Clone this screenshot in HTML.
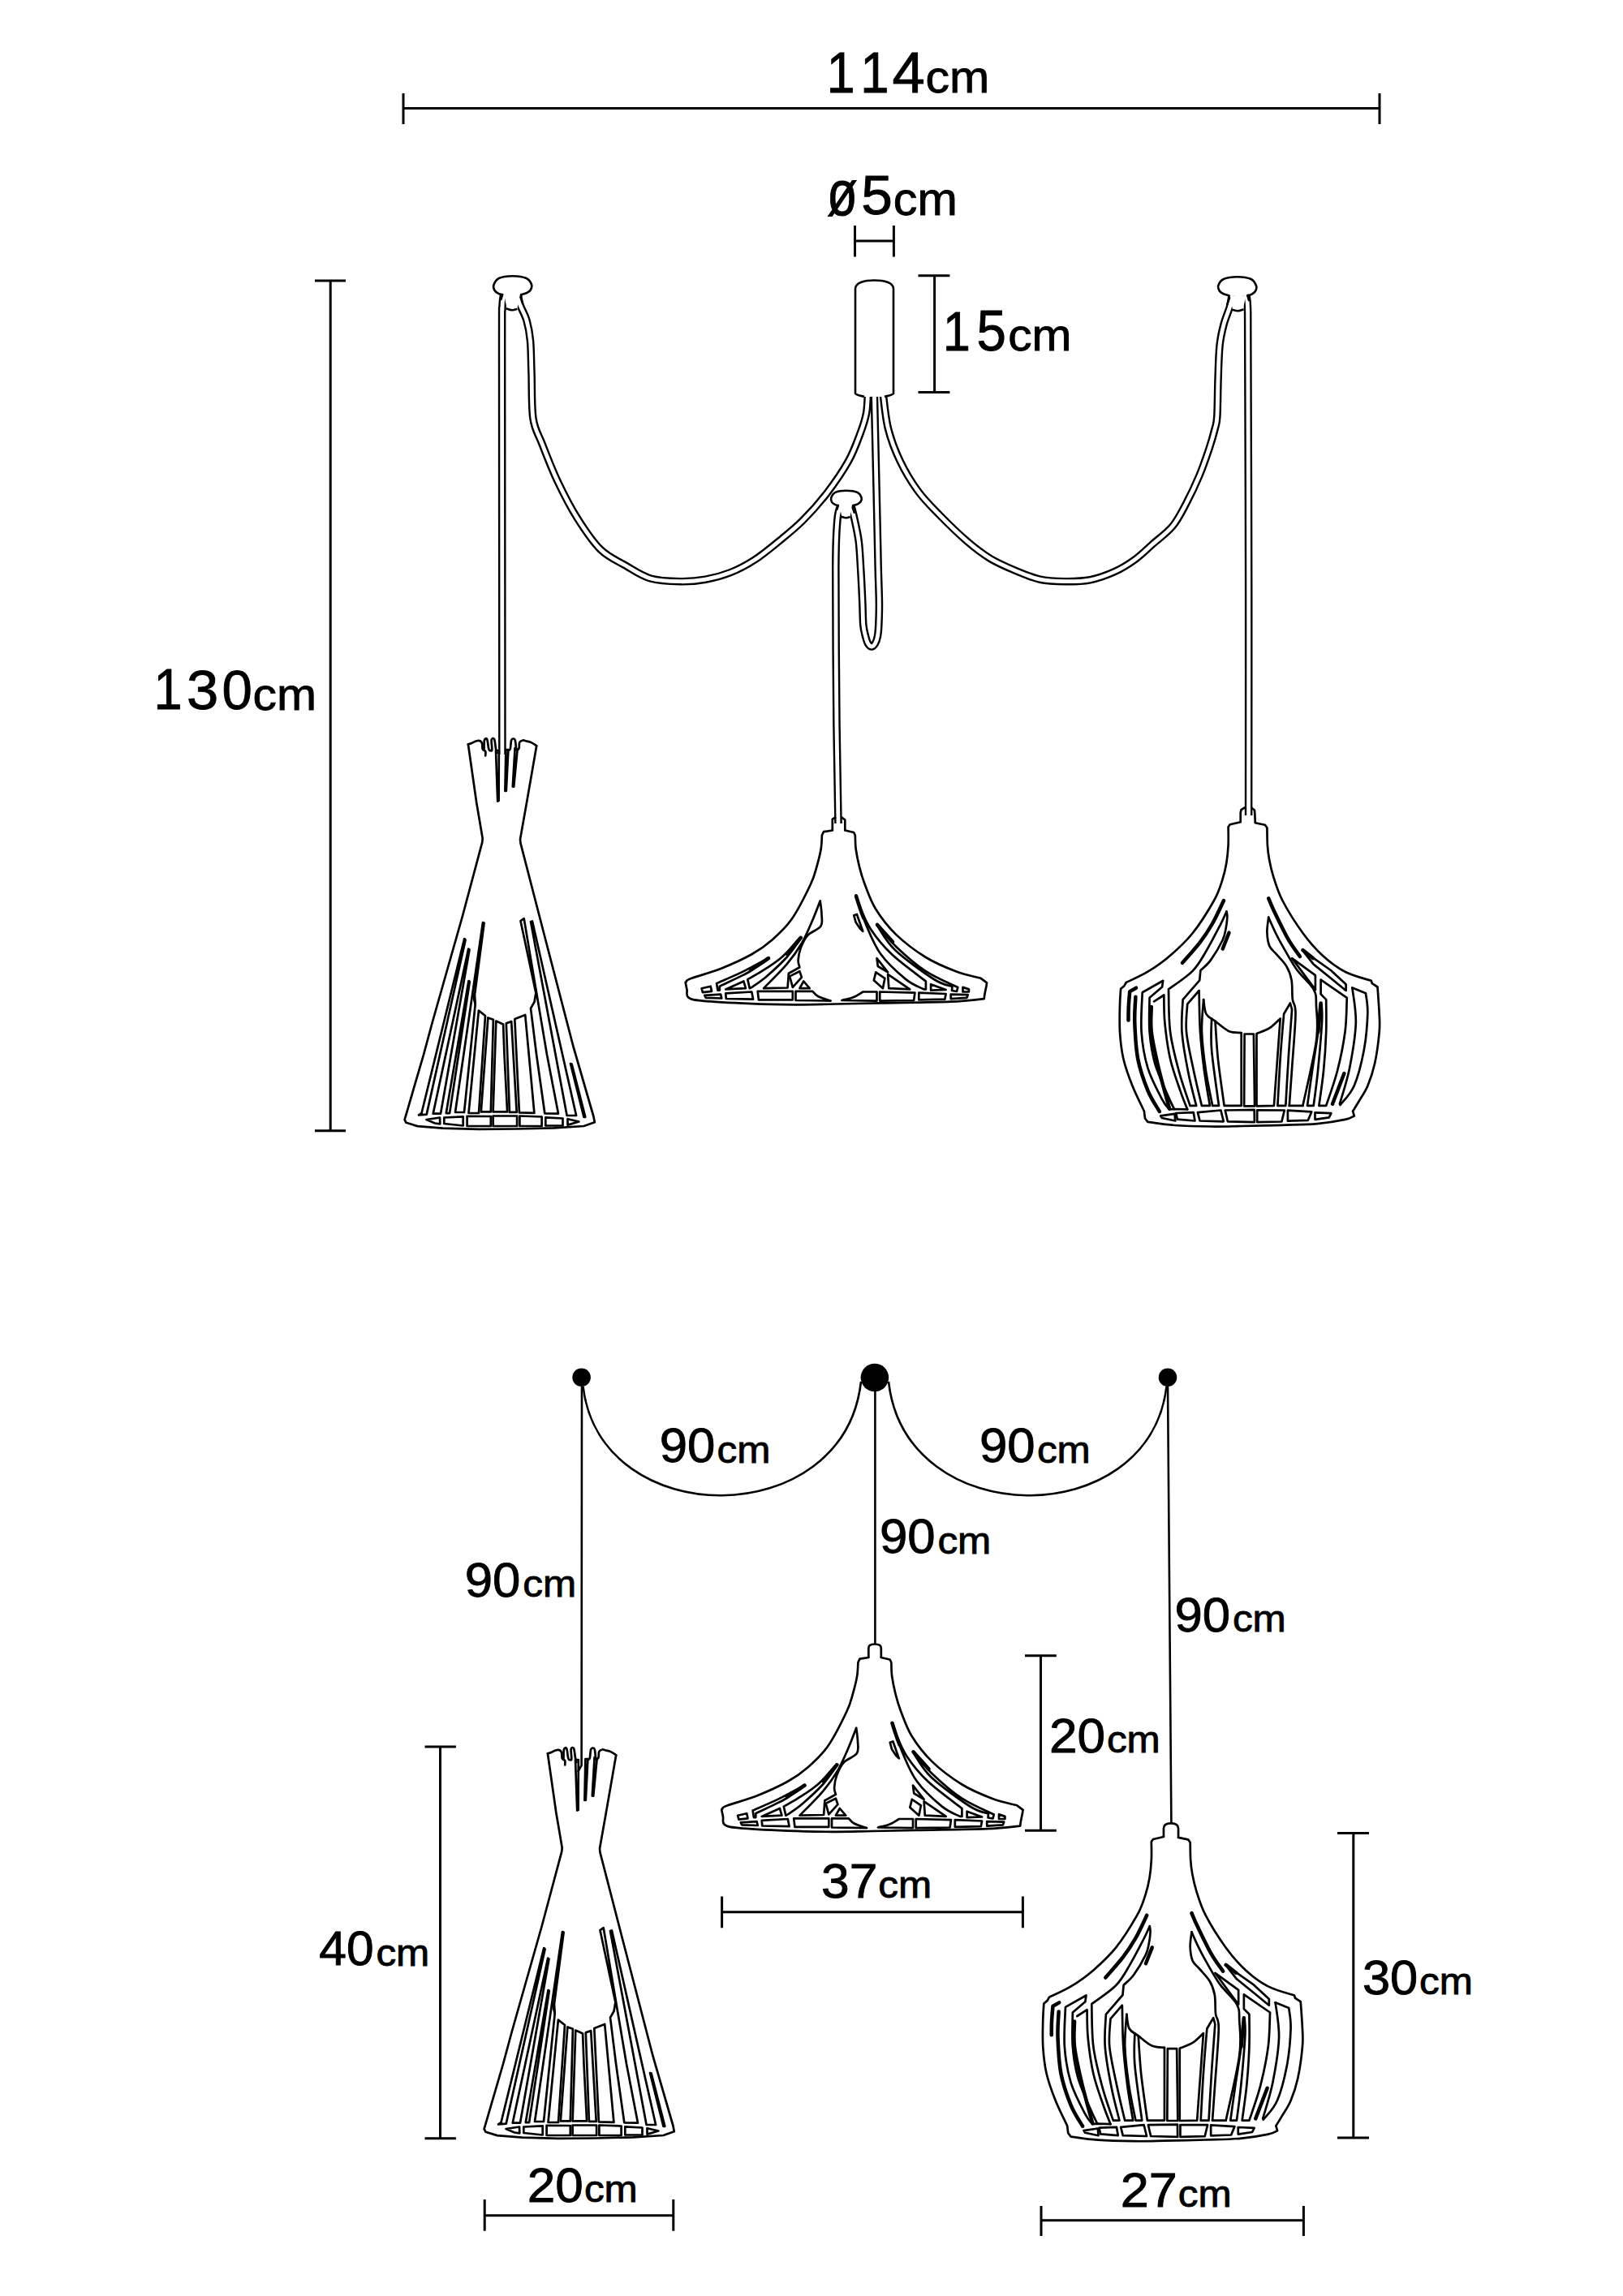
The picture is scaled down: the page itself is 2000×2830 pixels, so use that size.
<!DOCTYPE html>
<html><head><meta charset="utf-8"><style>
html,body{margin:0;padding:0;background:#fff;}
svg{display:block;}
text{font-family:"Liberation Sans",sans-serif;fill:#000;}
</style></head><body>
<svg width="2000" height="2830" viewBox="0 0 2000 2830" xmlns="http://www.w3.org/2000/svg">
<text transform="matrix(62.558 0 0 70.725 1018.71 113.60)" font-size="1" stroke="#000" stroke-width="0.0135">1</text>
<text transform="matrix(63.488 0 0 70.725 1060.34 113.60)" font-size="1" stroke="#000" stroke-width="0.0134">1</text>
<text transform="matrix(72.400 0 0 70.725 1099.49 113.60)" font-size="1" stroke="#000" stroke-width="0.0126">4</text>
<text transform="matrix(59.098 0 0 56.364 1140.44 113.74)" font-size="1" stroke="#000" stroke-width="0.0156">cm</text>
<text transform="matrix(61.607 0 0 78.407 1018.96 265.33)" font-size="1" stroke="#000" stroke-width="0.0129">ø</text>
<text transform="matrix(69.474 0 0 69.286 1061.22 264.01)" font-size="1" stroke="#000" stroke-width="0.0130">5</text>
<text transform="matrix(59.262 0 0 57.818 1100.83 264.62)" font-size="1" stroke="#000" stroke-width="0.0154">cm</text>
<text transform="matrix(60.698 0 0 69.420 1162.05 432.30)" font-size="1" stroke="#000" stroke-width="0.0139">1</text>
<text transform="matrix(65.474 0 0 69.429 1203.38 432.31)" font-size="1" stroke="#000" stroke-width="0.0133">5</text>
<text transform="matrix(58.689 0 0 55.636 1242.16 432.34)" font-size="1" stroke="#000" stroke-width="0.0158">cm</text>
<text transform="matrix(63.023 0 0 70.725 189.47 874.40)" font-size="1" stroke="#000" stroke-width="0.0135">1</text>
<text transform="matrix(70.638 0 0 69.296 230.07 874.11)" font-size="1" stroke="#000" stroke-width="0.0129">3</text>
<text transform="matrix(67.158 0 0 69.296 273.51 874.11)" font-size="1" stroke="#000" stroke-width="0.0132">0</text>
<text transform="matrix(58.852 0 0 55.818 311.55 874.74)" font-size="1" stroke="#000" stroke-width="0.0157">cm</text>
<text transform="matrix(61.748 0 0 58.873 812.72 1802.41)" font-size="1" stroke="#000" stroke-width="0.0149">90</text>
<text transform="matrix(49.426 0 0 46.000 883.48 1802.84)" font-size="1" stroke="#000" stroke-width="0.0189">cm</text>
<text transform="matrix(61.748 0 0 58.873 1207.02 1802.41)" font-size="1" stroke="#000" stroke-width="0.0149">90</text>
<text transform="matrix(49.426 0 0 46.000 1277.88 1802.84)" font-size="1" stroke="#000" stroke-width="0.0189">cm</text>
<text transform="matrix(61.748 0 0 58.873 1084.02 1914.21)" font-size="1" stroke="#000" stroke-width="0.0149">90</text>
<text transform="matrix(49.426 0 0 46.000 1155.38 1914.64)" font-size="1" stroke="#000" stroke-width="0.0189">cm</text>
<text transform="matrix(61.748 0 0 58.873 572.72 1967.81)" font-size="1" stroke="#000" stroke-width="0.0149">90</text>
<text transform="matrix(49.426 0 0 46.000 644.18 1968.24)" font-size="1" stroke="#000" stroke-width="0.0189">cm</text>
<text transform="matrix(61.748 0 0 58.873 1447.42 2010.61)" font-size="1" stroke="#000" stroke-width="0.0149">90</text>
<text transform="matrix(49.426 0 0 46.000 1518.88 2011.04)" font-size="1" stroke="#000" stroke-width="0.0189">cm</text>
<text transform="matrix(62.049 0 0 58.873 1292.90 2159.51)" font-size="1" stroke="#000" stroke-width="0.0149">20</text>
<text transform="matrix(49.426 0 0 46.000 1363.88 2159.94)" font-size="1" stroke="#000" stroke-width="0.0189">cm</text>
<text transform="matrix(62.353 0 0 58.873 1012.01 2338.81)" font-size="1" stroke="#000" stroke-width="0.0149">37</text>
<text transform="matrix(49.426 0 0 46.000 1082.18 2339.24)" font-size="1" stroke="#000" stroke-width="0.0189">cm</text>
<text transform="matrix(60.571 0 0 58.873 393.29 2422.21)" font-size="1" stroke="#000" stroke-width="0.0151">40</text>
<text transform="matrix(49.426 0 0 46.000 463.38 2422.64)" font-size="1" stroke="#000" stroke-width="0.0189">cm</text>
<text transform="matrix(62.049 0 0 58.873 649.70 2713.61)" font-size="1" stroke="#000" stroke-width="0.0149">20</text>
<text transform="matrix(49.426 0 0 46.000 719.88 2714.04)" font-size="1" stroke="#000" stroke-width="0.0189">cm</text>
<text transform="matrix(62.970 0 0 59.714 1380.65 2720.20)" font-size="1" stroke="#000" stroke-width="0.0147">27</text>
<text transform="matrix(49.426 0 0 46.000 1451.78 2720.04)" font-size="1" stroke="#000" stroke-width="0.0189">cm</text>
<text transform="matrix(61.449 0 0 58.873 1678.94 2457.51)" font-size="1" stroke="#000" stroke-width="0.0150">30</text>
<text transform="matrix(49.426 0 0 46.000 1749.08 2457.94)" font-size="1" stroke="#000" stroke-width="0.0189">cm</text>
<path d="M497 133.6L1700 133.6M497 115L497 153M1700 115L1700 153M1053.5 297L1101.4 297M1053.5 278L1053.5 316.5M1101.4 278L1101.4 316.5M1151.6 339.7L1151.6 483.6M1131.5 339.7L1170.4 339.7M1131.5 483.6L1170.4 483.6M407.2 346.1L407.2 1393.7M388 346.1L426 346.1M388 1393.7L426 1393.7M542.5 2153L542.5 2635.8M523.5 2153L561.9 2153M523.5 2635.8L561.9 2635.8M597.2 2730.7L829.8 2730.7M597.2 2711L597.2 2749.8M829.8 2711L829.8 2749.8M1282.5 2040.7L1282.5 2256.2M1263 2040.7L1301.8 2040.7M1263 2256.2L1301.8 2256.2M889.6 2356.7L1260.4 2356.7M889.6 2337.5L889.6 2376.3M1260.4 2337.5L1260.4 2376.3M1667.8 2259.6L1667.8 2635M1648 2259.6L1687 2259.6M1648 2635L1687 2635M1283 2736.8L1606.4 2736.8M1283 2719L1283 2756M1606.4 2719L1606.4 2756" stroke="#000" stroke-width="3" fill="none"/>
<g id="cables">
<path d="M620.5 364.0C620.2 366.7 619.3 367.7 619.0 380.0C618.7 392.3 618.6 346.3 618.6 438.0C618.6 529.7 618.9 848.0 618.9 930.0" stroke="#000" stroke-width="9.6" fill="none" stroke-linejoin="round"/>
<path d="M620.5 364.0C620.2 366.7 619.3 367.7 619.0 380.0C618.7 392.3 618.6 346.3 618.6 438.0C618.6 529.7 618.9 848.0 618.9 930.0" stroke="#fff" stroke-width="4.8" fill="none" stroke-linejoin="round"/>
<path d="M638.5 364.0C638.9 366.0 639.2 370.8 641.0 376.0C642.8 381.2 646.9 387.7 649.0 395.0C651.1 402.3 652.5 409.2 653.5 420.0C654.5 430.8 654.4 444.0 655.0 460.0C655.6 476.0 654.8 501.5 657.0 516.0C659.2 530.5 663.0 534.2 668.0 547.0C673.0 559.8 679.8 577.8 687.0 593.0C694.2 608.2 702.2 624.0 711.0 638.0C719.8 652.0 730.0 667.5 740.0 677.3C750.0 687.1 760.5 691.0 770.8 697.0C781.1 703.0 790.3 709.7 801.6 713.0C812.9 716.3 827.3 716.5 838.6 716.7C849.9 716.9 859.1 716.1 869.4 714.2C879.7 712.4 890.1 709.6 900.2 705.6C910.3 701.6 920.1 696.4 930.0 690.0C939.9 683.6 949.8 675.3 959.6 667.3C969.5 659.2 979.2 651.6 989.1 641.7C999.0 631.9 1009.3 620.4 1018.7 608.2C1028.1 596.0 1038.4 581.0 1045.3 568.7C1052.2 556.4 1056.4 544.1 1060.1 534.2C1063.8 524.4 1065.9 518.0 1067.5 509.6C1069.1 501.2 1069.2 488.3 1069.5 484.0" stroke="#000" stroke-width="9.6" fill="none" stroke-linejoin="round"/>
<path d="M638.5 364.0C638.9 366.0 639.2 370.8 641.0 376.0C642.8 381.2 646.9 387.7 649.0 395.0C651.1 402.3 652.5 409.2 653.5 420.0C654.5 430.8 654.4 444.0 655.0 460.0C655.6 476.0 654.8 501.5 657.0 516.0C659.2 530.5 663.0 534.2 668.0 547.0C673.0 559.8 679.8 577.8 687.0 593.0C694.2 608.2 702.2 624.0 711.0 638.0C719.8 652.0 730.0 667.5 740.0 677.3C750.0 687.1 760.5 691.0 770.8 697.0C781.1 703.0 790.3 709.7 801.6 713.0C812.9 716.3 827.3 716.5 838.6 716.7C849.9 716.9 859.1 716.1 869.4 714.2C879.7 712.4 890.1 709.6 900.2 705.6C910.3 701.6 920.1 696.4 930.0 690.0C939.9 683.6 949.8 675.3 959.6 667.3C969.5 659.2 979.2 651.6 989.1 641.7C999.0 631.9 1009.3 620.4 1018.7 608.2C1028.1 596.0 1038.4 581.0 1045.3 568.7C1052.2 556.4 1056.4 544.1 1060.1 534.2C1063.8 524.4 1065.9 518.0 1067.5 509.6C1069.1 501.2 1069.2 488.3 1069.5 484.0" stroke="#fff" stroke-width="4.8" fill="none" stroke-linejoin="round"/>
<path d="M1536.0 364.0C1536.2 366.7 1537.2 368.2 1537.5 380.0C1537.8 391.8 1537.6 376.3 1537.8 434.6C1538.0 492.9 1538.6 634.9 1538.7 730.0C1538.8 825.1 1538.6 959.2 1538.6 1005.0" stroke="#000" stroke-width="9.6" fill="none" stroke-linejoin="round"/>
<path d="M1536.0 364.0C1536.2 366.7 1537.2 368.2 1537.5 380.0C1537.8 391.8 1537.6 376.3 1537.8 434.6C1538.0 492.9 1538.6 634.9 1538.7 730.0C1538.8 825.1 1538.6 959.2 1538.6 1005.0" stroke="#fff" stroke-width="4.8" fill="none" stroke-linejoin="round"/>
<path d="M1518.0 364.0C1517.6 366.3 1517.2 372.0 1515.5 378.0C1513.8 384.0 1510.1 392.0 1508.0 400.0C1505.9 408.0 1504.2 414.5 1503.0 426.0C1501.8 437.5 1501.5 454.3 1501.0 469.0C1500.5 483.7 1500.5 504.0 1499.8 514.0C1499.1 524.0 1498.6 522.5 1497.0 529.0C1495.4 535.5 1493.2 543.5 1490.0 553.0C1486.8 562.5 1482.7 574.8 1478.0 586.0C1473.3 597.2 1467.5 609.6 1462.0 620.0C1456.5 630.4 1452.0 640.0 1445.0 648.5C1438.0 657.0 1427.7 664.1 1420.0 671.0C1412.3 677.9 1406.4 684.0 1398.7 689.6C1391.0 695.2 1383.2 700.2 1374.0 704.4C1364.8 708.6 1353.5 712.8 1343.2 714.8C1332.9 716.8 1322.7 716.8 1312.4 716.7C1302.1 716.6 1291.9 716.5 1281.6 714.2C1271.3 711.9 1261.1 707.4 1250.8 703.1C1240.5 698.8 1229.8 694.2 1220.0 688.3C1210.2 682.3 1202.5 676.4 1192.0 667.4C1181.5 658.4 1167.2 644.4 1157.0 634.0C1146.8 623.6 1139.0 616.0 1131.0 605.0C1123.0 594.0 1115.1 580.8 1109.0 568.0C1102.9 555.2 1097.9 542.0 1094.4 528.0C1090.9 514.0 1089.1 491.3 1088.0 484.0" stroke="#000" stroke-width="9.6" fill="none" stroke-linejoin="round"/>
<path d="M1518.0 364.0C1517.6 366.3 1517.2 372.0 1515.5 378.0C1513.8 384.0 1510.1 392.0 1508.0 400.0C1505.9 408.0 1504.2 414.5 1503.0 426.0C1501.8 437.5 1501.5 454.3 1501.0 469.0C1500.5 483.7 1500.5 504.0 1499.8 514.0C1499.1 524.0 1498.6 522.5 1497.0 529.0C1495.4 535.5 1493.2 543.5 1490.0 553.0C1486.8 562.5 1482.7 574.8 1478.0 586.0C1473.3 597.2 1467.5 609.6 1462.0 620.0C1456.5 630.4 1452.0 640.0 1445.0 648.5C1438.0 657.0 1427.7 664.1 1420.0 671.0C1412.3 677.9 1406.4 684.0 1398.7 689.6C1391.0 695.2 1383.2 700.2 1374.0 704.4C1364.8 708.6 1353.5 712.8 1343.2 714.8C1332.9 716.8 1322.7 716.8 1312.4 716.7C1302.1 716.6 1291.9 716.5 1281.6 714.2C1271.3 711.9 1261.1 707.4 1250.8 703.1C1240.5 698.8 1229.8 694.2 1220.0 688.3C1210.2 682.3 1202.5 676.4 1192.0 667.4C1181.5 658.4 1167.2 644.4 1157.0 634.0C1146.8 623.6 1139.0 616.0 1131.0 605.0C1123.0 594.0 1115.1 580.8 1109.0 568.0C1102.9 555.2 1097.9 542.0 1094.4 528.0C1090.9 514.0 1089.1 491.3 1088.0 484.0" stroke="#fff" stroke-width="4.8" fill="none" stroke-linejoin="round"/>
<path d="M1077.3 484.0C1077.8 503.3 1079.2 564.0 1080.0 600.0C1080.8 636.0 1081.6 676.2 1082.2 700.0C1082.8 723.8 1083.3 731.3 1083.4 743.0C1083.5 754.7 1083.1 763.2 1082.8 770.0C1082.5 776.8 1082.2 780.2 1081.5 784.0C1080.8 787.8 1079.8 790.8 1078.5 793.0C1077.2 795.2 1075.5 797.0 1074.0 797.0C1072.5 797.0 1070.8 795.2 1069.5 793.0C1068.2 790.8 1067.5 787.8 1066.5 784.0C1065.5 780.2 1064.4 776.8 1063.8 770.0C1063.2 763.2 1063.3 754.7 1062.8 743.0C1062.3 731.3 1061.4 712.7 1060.6 700.0C1059.8 687.3 1059.5 677.0 1058.2 667.0C1056.9 657.0 1054.6 647.5 1053.0 640.0C1051.4 632.5 1049.2 625.0 1048.5 622.0" stroke="#000" stroke-width="9.6" fill="none" stroke-linejoin="round"/>
<path d="M1077.3 484.0C1077.8 503.3 1079.2 564.0 1080.0 600.0C1080.8 636.0 1081.6 676.2 1082.2 700.0C1082.8 723.8 1083.3 731.3 1083.4 743.0C1083.5 754.7 1083.1 763.2 1082.8 770.0C1082.5 776.8 1082.2 780.2 1081.5 784.0C1080.8 787.8 1079.8 790.8 1078.5 793.0C1077.2 795.2 1075.5 797.0 1074.0 797.0C1072.5 797.0 1070.8 795.2 1069.5 793.0C1068.2 790.8 1067.5 787.8 1066.5 784.0C1065.5 780.2 1064.4 776.8 1063.8 770.0C1063.2 763.2 1063.3 754.7 1062.8 743.0C1062.3 731.3 1061.4 712.7 1060.6 700.0C1059.8 687.3 1059.5 677.0 1058.2 667.0C1056.9 657.0 1054.6 647.5 1053.0 640.0C1051.4 632.5 1049.2 625.0 1048.5 622.0" stroke="#fff" stroke-width="4.8" fill="none" stroke-linejoin="round"/>
<path d="M1036.5 622.0C1035.8 625.0 1033.1 627.0 1032.0 640.0C1030.9 653.0 1030.0 658.9 1029.8 700.0C1029.6 741.1 1030.4 834.3 1030.9 886.8C1031.4 939.3 1032.7 993.6 1033.0 1015.0" stroke="#000" stroke-width="9.6" fill="none" stroke-linejoin="round"/>
<path d="M1036.5 622.0C1035.8 625.0 1033.1 627.0 1032.0 640.0C1030.9 653.0 1030.0 658.9 1029.8 700.0C1029.6 741.1 1030.4 834.3 1030.9 886.8C1031.4 939.3 1032.7 993.6 1033.0 1015.0" stroke="#fff" stroke-width="4.8" fill="none" stroke-linejoin="round"/>
<path d="M621.2 363.2L624.7 380.5L630.7 382.4L637.4 381.0L640.7 363.2Z" fill="#fff" stroke="none"/>
<path d="M623.9 380.2C625.0 380.5 628.5 382.1 630.7 382.2C633.0 382.3 636.3 381.0 637.4 380.8" fill="none" stroke="#000" stroke-width="2.6"/>
<path d="M619.1 363.2C618.3 363.0 615.8 362.7 614.2 361.8C612.6 360.9 610.5 359.7 609.5 358.0C608.5 356.3 607.4 354.0 608.3 351.5C609.2 349.0 610.8 344.9 614.7 343.0C618.6 341.1 626.0 340.2 631.7 340.2C637.4 340.2 644.8 341.2 648.7 343.0C652.6 344.8 654.3 348.6 655.1 351.0C655.9 353.4 654.7 355.8 653.7 357.5C652.7 359.2 651.1 360.1 649.2 361.0C647.3 361.9 643.4 362.8 642.2 363.2" fill="#fff" stroke="#000" stroke-width="2.6" stroke-linecap="round"/>
<path d="M619.1 363.2L617.5 369.0M642.2 363.2L641.5 366.5L644.0 374.0" fill="none" stroke="#000" stroke-width="2.6" stroke-linecap="round"/>
<path d="M1535.2 364.2L1531.7 381.5L1525.7 383.4L1519.0 382.0L1515.7 364.2Z" fill="#fff" stroke="none"/>
<path d="M1532.5 381.2C1531.4 381.5 1528.0 383.1 1525.7 383.2C1523.5 383.3 1520.1 382.0 1519.0 381.8" fill="none" stroke="#000" stroke-width="2.6"/>
<path d="M1537.3 364.2C1538.1 364.0 1540.6 363.7 1542.2 362.8C1543.8 361.9 1545.9 360.7 1546.9 359.0C1547.9 357.3 1549.0 355.0 1548.1 352.5C1547.2 350.0 1545.6 345.9 1541.7 344.0C1537.8 342.1 1530.4 341.2 1524.7 341.2C1519.0 341.2 1511.6 342.2 1507.7 344.0C1503.8 345.8 1502.1 349.6 1501.3 352.0C1500.5 354.4 1501.7 356.8 1502.7 358.5C1503.7 360.2 1505.3 361.1 1507.2 362.0C1509.1 362.9 1513.0 363.8 1514.2 364.2" fill="#fff" stroke="#000" stroke-width="2.6" stroke-linecap="round"/>
<path d="M1537.3 364.2L1538.9 370.0M1514.2 364.2L1514.9 367.5L1512.4 375.0" fill="none" stroke="#000" stroke-width="2.6" stroke-linecap="round"/>
<path d="M1034.5 623.1L1037.3 636.9L1042.1 638.4L1047.5 637.3L1050.1 623.1Z" fill="#fff" stroke="none"/>
<path d="M1036.7 636.7C1037.6 636.9 1040.3 638.2 1042.1 638.3C1043.9 638.3 1046.6 637.3 1047.5 637.1" fill="none" stroke="#000" stroke-width="2.6"/>
<path d="M1032.8 623.1C1032.2 622.9 1030.2 622.6 1028.9 621.9C1027.6 621.2 1025.9 620.3 1025.1 618.9C1024.4 617.5 1023.5 615.7 1024.2 613.7C1024.9 611.7 1026.2 608.4 1029.3 606.9C1032.4 605.4 1038.4 604.7 1042.9 604.7C1047.4 604.7 1053.4 605.5 1056.5 606.9C1059.6 608.3 1061.0 611.4 1061.6 613.3C1062.3 615.2 1061.3 617.2 1060.5 618.5C1059.7 619.8 1058.4 620.5 1056.9 621.3C1055.4 622.1 1052.2 622.8 1051.3 623.1" fill="#fff" stroke="#000" stroke-width="2.6" stroke-linecap="round"/>
<path d="M1032.8 623.1L1031.5 627.7M1051.3 623.1L1050.7 625.7L1052.7 631.7" fill="none" stroke="#000" stroke-width="2.6" stroke-linecap="round"/>
<path d="M1065 489C1062 488 1055 487 1054 485L1054 356C1054 348 1066 345.5 1077.5 345.5C1089 345.5 1101 348 1101 356L1101 485C1100 487 1093 488 1090 489" fill="#fff" stroke="#000" stroke-width="2.6"/>
</g>
<defs><g id="lamp1" fill="none" stroke="#000" stroke-width="2.7" stroke-linejoin="round" stroke-linecap="round"><path d="M576.9 917.3L587.3 990.0L594.7 1033.4L594.2 1038.3L569.7 1130.0L532.8 1260.0L522.0 1300.0L498.6 1380.1L500.5 1383.8L514.6 1388.1L545.5 1390.6L590.0 1391.8L636.0 1391.5L682.4 1390.3L719.4 1388.0L732.8 1383.3L731.4 1376.0L706.5 1290.0L670.1 1150.0L641.5 1039.3L641.0 1034.4L648.9 990.0L661.2 919.3"/><path d="M576.9 917.3C577.6 917.1 579.5 916.6 581.3 915.9C583.0 915.2 585.6 913.6 587.4 913.2C589.2 912.8 591.0 912.9 592.1 913.5C593.2 914.1 593.7 915.0 594.1 916.6C594.5 918.2 594.1 921.8 594.8 923.4C595.5 925.0 597.6 924.8 598.2 926.1C598.8 927.5 598.2 930.6 598.2 931.5"/><path d="M596.5 923.5C596.6 921.7 596.3 914.5 596.9 912.5C597.5 910.5 599.3 909.4 600.2 911.2C601.1 913.0 601.6 921.1 602.3 923.4C603.0 925.7 603.6 925.0 604.3 925.1C605.0 925.2 606.1 926.3 606.3 924.1C606.5 921.9 605.2 914.0 605.7 911.9C606.2 909.8 608.2 909.3 609.1 911.2C610.0 913.1 610.5 920.6 611.1 923.4C611.7 926.2 612.3 927.2 612.5 928.0"/><path d="M626.0 924.7C626.5 924.5 628.0 925.4 628.7 923.4C629.4 921.4 629.4 914.6 630.1 912.5C630.8 910.4 632.0 910.5 632.8 910.5C633.6 910.5 634.2 910.2 634.8 912.5C635.4 914.8 636.0 922.2 636.2 924.1"/><path d="M637.5 924.7C637.9 924.2 639.1 923.6 639.6 922.0C640.1 920.4 639.4 916.8 640.2 915.2C641.0 913.6 643.0 912.8 644.3 912.5C645.5 912.2 646.2 912.9 647.7 913.2C649.2 913.6 651.3 913.9 653.1 914.6C654.9 915.3 657.1 916.5 658.5 917.3C659.9 918.1 660.8 919.0 661.2 919.3"/><path d="M611.0 925.0L614.8 925.0L614.6 987.0L613.2 987.5Z"/><path d="M623.4 924.0L626.4 924.0L623.8 975.0L622.4 975.0Z"/><path d="M634.6 922.0L637.6 924.0L633.2 969.6L631.8 969.6Z"/><path d="M572.2 1157.0L573.6 1158.5L525.7 1373.6L516.0 1374.4L519.5 1372.0Z"/><path d="M577.2 1169.5L578.5 1170.5L543.0 1372.7L533.7 1372.7Z"/><path d="M577.5 1209.0L578.8 1209.8L554.1 1372.1L549.8 1372.1Z"/><path d="M595.0 1137.0L596.6 1137.8L585.0 1226.0L585.7 1238.0L572.0 1371.0L561.0 1371.0Z"/><path d="M589.9 1245.6L598.0 1252.0L590.0 1372.0L577.5 1372.0Z"/><path d="M601.4 1254.4L607.9 1256.8L604.8 1370.4L592.8 1370.4Z"/><path d="M611.3 1258.5L620.1 1262.5L621.5 1300.0L625.1 1370.4L607.6 1370.4Z"/><path d="M623.8 1261.2L630.2 1259.1L636.7 1370.9L627.9 1370.9Z"/><path d="M634.3 1256.1L647.2 1251.0L658.4 1371.8L639.9 1371.3Z"/><path d="M641.5 1135.2L645.7 1132.2L674.0 1300.0L688.0 1372.7L671.3 1372.3L661.1 1300.0L654.0 1242.9L658.5 1235.0L660.4 1223.9Z"/><path d="M654.0 1136.0L656.0 1135.5L710.1 1375.0L698.6 1375.0Z"/><path d="M703.0 1311.0L704.6 1311.5L721.3 1376.9L719.5 1377.0Z"/><path d="M584.5 1225.0L584.0 1231.0L585.7 1238.0"/><path d="M525.5 1380.0L542.0 1377.5L542.3 1385.3L536.0 1384.5Z"/><path d="M547.3 1377.5L570.7 1376.4L570.7 1387.5L547.3 1385.0Z"/><path d="M575.6 1375.8L604.8 1376.0L604.8 1388.0L575.6 1388.0Z"/><path d="M607.6 1375.5L637.1 1375.5L637.1 1388.0L607.6 1388.0Z"/><path d="M640.4 1375.5L667.6 1376.5L667.6 1388.0L640.4 1388.0Z"/><path d="M672.3 1377.3L693.5 1378.5L693.5 1387.5L672.3 1387.5Z"/><path d="M699.5 1379.2L713.4 1382.5L699.5 1386.6Z"/></g></defs>
<use href="#lamp1"/>
<use href="#lamp1" transform="translate(98 1244)"/>
<defs><g id="lamp2" fill="none" stroke="#000" stroke-width="2.7" stroke-linejoin="round" stroke-linecap="round"><path d="M1025.8 1023.5L1015.0 1025.2L1012.9 1029.5L1012.9 1029.5C1012.7 1032.4 1012.7 1040.3 1011.6 1046.8C1010.5 1053.3 1008.5 1061.1 1006.4 1068.3C1004.3 1075.5 1004.0 1079.2 998.9 1090.0C993.8 1100.8 983.5 1121.6 975.5 1133.1C967.5 1144.6 959.1 1151.8 950.9 1159.0C942.7 1166.2 936.6 1170.5 926.3 1176.3C916.0 1182.0 901.6 1188.6 889.3 1193.5C877.0 1198.4 859.5 1203.2 852.3 1205.8C845.1 1208.4 847.0 1208.5 846.0 1209.0L846.0 1209.5L844.7 1211.0L844.7 1211.0C845.0 1212.5 845.9 1216.9 846.5 1220.0C847.1 1223.1 845.0 1227.1 848.2 1229.4C851.4 1231.7 852.9 1232.4 865.9 1233.7C878.9 1235.0 907.3 1236.4 926.3 1237.2C945.3 1238.0 962.7 1238.2 980.0 1238.3C997.3 1238.3 1012.5 1237.8 1030.0 1237.5C1047.5 1237.2 1061.5 1236.8 1085.0 1236.3C1108.5 1235.8 1150.0 1235.5 1171.3 1234.6C1192.6 1233.7 1205.8 1231.7 1212.7 1231.1L1212.7 1231.1C1212.8 1230.1 1213.0 1227.8 1213.5 1225.1C1214.0 1222.4 1215.1 1217.3 1215.5 1215.0C1215.9 1212.7 1216.0 1211.9 1216.1 1211.3L1216.1 1211.3L1208.7 1205.8L1208.7 1205.8C1203.6 1204.4 1189.2 1201.5 1177.9 1197.2C1166.6 1192.9 1153.2 1187.6 1140.9 1180.0C1128.6 1172.4 1114.2 1161.5 1103.9 1151.6C1093.6 1141.7 1085.7 1131.1 1079.3 1120.8C1072.9 1110.5 1069.1 1098.8 1065.7 1090.0C1062.3 1081.2 1060.8 1075.5 1059.0 1068.3C1057.2 1061.1 1055.6 1053.3 1054.7 1046.8C1053.8 1040.3 1054.0 1032.4 1053.8 1029.5L1053.8 1029.5L1052.1 1026.0L1041.3 1023.5"/><path d="M947.2 1180.6C941.7 1183.6 924.6 1193.2 913.9 1198.4C903.2 1203.6 888.2 1209.7 883.1 1212.0L883.1 1212.0L884.4 1220.6L886.8 1220.6L886.8 1215.7L886.8 1215.7C891.5 1213.4 908.6 1205.4 915.2 1202.1C921.8 1198.8 920.9 1199.4 926.3 1196.0C931.7 1192.6 944.2 1183.9 947.8 1181.5Z"/><path d="M986.6 1155.3C982.7 1159.4 971.2 1173.0 963.2 1180.0C955.2 1187.0 945.6 1192.7 938.6 1197.2C931.6 1201.7 924.2 1205.4 921.3 1207.1L921.3 1207.1L923.8 1218.2L926.3 1216.9L926.3 1216.9C929.4 1214.7 937.5 1209.6 944.7 1203.4C951.9 1197.2 962.3 1187.9 969.4 1180.0C976.5 1172.1 984.4 1160.2 987.4 1156.2Z"/><path d="M1010.7 1110.3C1009.0 1114.7 1004.0 1128.1 1000.2 1136.8C996.4 1145.5 993.0 1154.1 987.9 1162.7C982.8 1171.3 977.2 1179.3 969.4 1188.6C961.6 1197.8 945.7 1213.3 941.0 1218.2L941.0 1218.2L970.6 1217.5L971.9 1199.7L985.4 1192.3L985.4 1192.3C985.1 1190.9 983.4 1187.6 983.6 1183.7C983.8 1179.8 984.7 1174.1 986.6 1168.9C988.5 1163.8 991.2 1157.3 995.3 1152.8C999.4 1148.3 1008.4 1146.1 1011.3 1141.8C1014.2 1137.5 1012.6 1132.2 1012.5 1127.0C1012.4 1121.8 1011.0 1113.1 1010.7 1110.3"/><path d="M973.1 1203.4L985.4 1197.2L987.9 1204.6L976.8 1216.9Z"/><path d="M985.4 1218.2L990.3 1209.5L997.7 1218.2Z"/><path d="M864.6 1218.2L875.7 1215.7L877.0 1221.9L865.9 1223.1Z"/><path d="M894.2 1219.4L916.4 1209.5L918.9 1218.2Z"/><path d="M868.3 1226.8L888.1 1225.6L889.3 1230.5L869.6 1229.8Z"/><path d="M894.2 1224.3L926.3 1222.5L928.1 1231.7L894.8 1231.0Z"/><path d="M933.7 1221.9L976.8 1221.9L976.8 1232.3L934.9 1232.3Z"/><path d="M980.5 1233.0L980.5 1221.9L1001.4 1221.9L1001.4 1221.9C1002.5 1222.9 1004.3 1226.0 1008.0 1228.0C1011.7 1230.0 1021.0 1232.7 1023.6 1233.6Z"/><path d="M1037.4 1233.0C1039.8 1232.3 1047.7 1230.8 1052.0 1229.0C1056.3 1227.2 1061.4 1223.6 1063.3 1222.5L1063.3 1222.5L1080.5 1222.5L1080.5 1233.6Z"/><path d="M1084.2 1222.5L1127.4 1223.7L1126.1 1233.0L1084.2 1233.6Z"/><path d="M1132.3 1223.7L1165.6 1225.0L1164.3 1231.7L1132.3 1232.3Z"/><path d="M1171.7 1225.6L1192.7 1226.2L1191.4 1229.9L1171.7 1231.1Z"/><path d="M1052.2 1128.2L1055.9 1127.0L1063.3 1147.9L1059.6 1144.2L1054.6 1136.8Z"/><path d="M1054.6 1103.6C1056.7 1109.5 1061.8 1127.2 1067.0 1139.3C1072.2 1151.4 1077.3 1165.0 1085.5 1176.3C1093.7 1187.6 1107.5 1199.9 1116.3 1207.1C1125.1 1214.3 1134.7 1217.4 1138.4 1219.4L1138.4 1219.4L1140.9 1219.4L1140.9 1209.5L1140.9 1209.5C1133.9 1204.0 1110.3 1187.0 1099.0 1176.3C1087.7 1165.6 1079.9 1155.8 1073.1 1145.5C1066.3 1135.2 1061.2 1121.5 1058.3 1114.6C1055.4 1107.7 1056.0 1105.8 1055.5 1104.0"/><path d="M1080.5 1139.3C1084.4 1143.8 1093.8 1156.8 1103.9 1166.4C1114.0 1176.1 1128.2 1188.8 1140.9 1197.2C1153.6 1205.6 1173.7 1213.7 1180.3 1217.0L1180.3 1217.0L1179.0 1222.0L1173.0 1221.0L1173.5 1216.0L1173.5 1216.0C1169.7 1214.5 1162.5 1214.5 1150.8 1207.0C1139.0 1199.5 1114.6 1182.0 1103.0 1171.0C1091.4 1160.0 1084.7 1146.0 1081.0 1141.0"/><path d="M1080.5 1181.2L1094.1 1198.4L1081.8 1191.0Z"/><path d="M1079.3 1198.4L1090.4 1205.8L1087.9 1218.2L1076.8 1208.3Z"/><path d="M1094.1 1200.9L1095.3 1218.2L1121.2 1219.4Z"/><path d="M1147.1 1213.2L1165.6 1220.0L1147.1 1220.6Z"/><path d="M1186.5 1216.9L1193.9 1219.4L1193.9 1222.5L1186.5 1222.5Z"/><path d="M1081.0 1139.8C1082.8 1141.8 1088.8 1148.5 1092.0 1152.0C1095.2 1155.5 1098.7 1159.5 1100.0 1161.0" stroke-width="4.5"/><path d="M1055.0 1104.5C1055.8 1107.1 1058.5 1115.6 1060.0 1120.0C1061.5 1124.4 1063.3 1129.2 1064.0 1131.0" stroke-width="4.5"/><path d="M947.0 1181.0C945.0 1182.3 938.7 1186.8 935.0 1189.0C931.3 1191.2 926.7 1193.6 925.0 1194.5" stroke-width="4.5"/><path d="M986.8 1155.8C985.3 1157.5 980.8 1162.6 978.0 1166.0C975.2 1169.4 971.3 1174.3 970.0 1176.0" stroke-width="4.5"/></g></defs>
<use href="#lamp2"/>
<path d="M1030.1 1007.1L1025.8 1009.7L1025.8 1023.5M1036.6 1007.1L1041.3 1010.5L1041.3 1023.5" fill="none" stroke="#000" stroke-width="2.7" stroke-linejoin="round"/>
<use href="#lamp2" transform="translate(44.5 1019.5)"/>
<defs><g id="lamp3" fill="none" stroke="#000" stroke-width="2.7" stroke-linejoin="round" stroke-linecap="round"><path d="M1528.7 1013.3L1515.7 1016.3L1513.6 1019.3L1513.6 1019.3C1513.6 1023.0 1514.0 1034.5 1513.6 1041.8C1513.2 1049.1 1512.6 1056.1 1511.4 1063.3C1510.2 1070.5 1508.8 1077.1 1506.2 1084.9C1503.6 1092.7 1502.1 1099.2 1496.0 1110.0C1489.9 1120.8 1478.8 1138.7 1469.8 1150.0C1460.8 1161.3 1451.3 1169.8 1442.1 1177.7C1432.9 1185.7 1423.5 1192.2 1414.4 1197.7C1405.3 1203.2 1392.2 1208.8 1387.7 1211.0L1387.7 1211.0L1385.4 1215.2L1381.1 1218.8L1381.1 1218.8C1380.9 1222.1 1380.2 1229.8 1380.0 1238.7C1379.8 1247.6 1379.3 1260.9 1380.0 1272.0C1380.7 1283.1 1381.8 1294.2 1384.4 1305.3C1387.0 1316.4 1391.2 1327.8 1395.5 1338.5C1399.8 1349.2 1407.5 1364.4 1409.9 1369.6L1409.9 1369.6L1411.0 1378.5L1414.4 1382.9L1414.4 1382.9C1419.9 1383.6 1434.7 1386.1 1447.6 1387.0C1460.5 1387.9 1478.3 1388.3 1492.0 1388.5C1505.7 1388.7 1515.3 1388.3 1530.0 1388.0C1544.7 1387.7 1564.5 1387.3 1580.0 1386.8C1595.5 1386.3 1610.2 1386.2 1623.1 1385.1C1636.0 1383.9 1650.0 1381.5 1657.6 1379.9C1665.2 1378.3 1666.9 1376.3 1668.8 1375.6L1668.8 1375.6L1667.1 1369.5L1667.1 1369.5C1668.3 1367.6 1671.2 1363.2 1674.2 1358.0C1677.2 1352.8 1682.0 1346.4 1685.3 1338.5C1688.6 1330.6 1691.7 1321.9 1694.1 1310.8C1696.5 1299.7 1698.8 1282.2 1699.7 1272.0C1700.6 1261.8 1700.1 1259.0 1699.7 1249.8C1699.3 1240.5 1697.9 1222.0 1697.5 1216.5L1697.5 1216.5L1690.8 1212.1L1689.7 1208.8L1689.7 1208.8C1684.3 1207.0 1667.5 1202.9 1657.5 1197.7C1647.5 1192.5 1638.5 1185.7 1629.8 1177.7C1621.1 1169.8 1613.6 1161.3 1605.4 1150.0C1597.2 1138.7 1586.4 1121.6 1580.4 1110.0C1574.4 1098.4 1571.9 1089.1 1569.2 1080.6C1566.5 1072.1 1565.2 1065.5 1564.0 1059.0C1562.8 1052.5 1562.3 1048.3 1561.9 1041.8C1561.5 1035.3 1561.5 1023.8 1561.4 1020.2L1561.4 1020.2L1558.8 1016.7L1546.8 1014.2"/><path d="M1441.0 1367.4L1441.0 1367.4C1439.5 1365.4 1436.5 1363.7 1432.1 1355.2C1427.7 1346.7 1418.7 1330.3 1414.4 1316.4C1410.2 1302.5 1407.7 1287.5 1406.6 1272.0C1405.5 1256.5 1407.5 1231.3 1407.7 1223.2L1407.7 1223.2L1433.2 1208.8L1432.1 1216.5L1416.6 1229.8L1416.6 1229.8C1416.6 1236.8 1415.5 1258.5 1416.6 1272.0C1417.7 1285.5 1419.5 1297.9 1423.2 1310.8C1426.9 1323.7 1434.8 1340.2 1438.8 1349.6C1442.8 1359.0 1445.6 1364.1 1447.0 1367.0"/><path d="M1422.1 1234.3L1434.3 1226.5L1434.3 1226.5C1434.5 1232.2 1434.1 1247.8 1435.4 1260.9C1436.7 1274.0 1438.9 1291.4 1442.1 1305.3C1445.2 1319.2 1450.8 1333.8 1454.3 1344.1C1457.8 1354.4 1461.7 1363.5 1463.2 1367.4"/><path d="M1511.5 1123.4C1510.3 1126.1 1508.3 1131.2 1504.1 1139.3C1499.9 1147.4 1492.1 1162.7 1486.4 1172.2C1480.7 1181.8 1477.5 1188.7 1469.8 1196.6C1462.1 1204.5 1445.0 1215.6 1440.0 1219.4L1440.0 1219.4C1440.3 1228.2 1439.9 1254.9 1442.1 1272.0C1444.3 1289.1 1449.1 1306.8 1453.2 1321.9C1457.3 1337.1 1464.3 1356.1 1466.5 1362.9L1466.5 1362.9L1474.2 1362.9L1474.2 1362.9C1472.5 1356.1 1467.2 1337.1 1464.3 1321.9C1461.3 1306.8 1457.6 1287.0 1456.5 1272.0C1455.4 1257.0 1457.4 1238.8 1457.6 1232.1L1457.6 1232.1L1478.2 1208.3L1479.4 1196.0L1479.4 1196.0C1481.5 1193.9 1487.3 1189.8 1491.8 1183.6C1496.3 1177.4 1503.4 1165.4 1506.5 1159.0C1509.6 1152.6 1509.5 1149.7 1510.5 1145.0C1511.5 1140.3 1512.1 1134.6 1512.3 1131.0C1512.5 1127.4 1511.6 1124.7 1511.5 1123.4"/><path d="M1480.9 1362.9C1479.2 1355.8 1474.2 1335.2 1471.0 1320.0C1467.8 1304.8 1463.3 1285.7 1462.0 1272.0C1460.7 1258.3 1463.0 1243.3 1463.2 1237.6L1463.2 1237.6L1477.6 1221.0L1477.6 1221.0C1477.8 1229.5 1477.9 1255.5 1479.0 1272.0C1480.1 1288.5 1482.0 1304.8 1484.0 1320.0C1486.0 1335.2 1489.8 1355.8 1490.9 1362.9L1490.9 1362.9L1480.9 1362.9"/><path d="M1483.1 1232.1C1483.6 1235.0 1484.0 1245.4 1486.4 1249.8C1488.8 1254.2 1492.9 1255.2 1497.5 1258.7C1502.1 1262.2 1508.8 1268.5 1514.2 1270.9C1519.6 1273.3 1527.1 1272.7 1529.7 1273.1"/><path d="M1493.1 1255.4C1493.1 1261.9 1491.6 1276.3 1493.1 1294.2C1494.6 1312.1 1500.5 1351.5 1502.0 1362.9L1502.0 1362.9L1494.2 1362.9L1494.2 1362.9C1492.8 1355.8 1488.2 1335.2 1486.0 1320.0C1483.8 1304.8 1481.5 1286.7 1481.0 1272.0C1480.5 1257.3 1482.8 1238.8 1483.1 1232.1"/><path d="M1497.5 1258.7C1498.1 1266.5 1499.1 1287.9 1500.9 1305.3C1502.8 1322.7 1507.3 1353.3 1508.6 1362.9L1508.6 1362.9L1529.7 1362.9L1529.7 1273.1"/><path d="M1441.0 1367.4L1447.0 1367.0L1463.2 1367.4"/><path d="M1533.6 1274.5L1544.9 1274.5L1546.1 1363.3L1533.1 1363.3Z"/><path d="M1548.5 1363.3L1548.5 1274.1L1548.5 1274.1C1551.2 1272.9 1559.8 1270.1 1564.7 1267.0C1569.6 1263.9 1575.5 1257.3 1577.7 1255.4L1577.7 1255.4L1569.9 1362.9L1548.5 1363.3"/><path d="M1574.4 1362.9L1574.4 1362.9C1575.0 1352.4 1576.7 1318.8 1578.0 1300.0C1579.3 1281.2 1581.4 1258.2 1582.1 1249.8L1582.1 1249.8L1589.9 1236.5L1592.1 1244.3L1592.1 1244.3C1591.4 1253.6 1589.3 1280.2 1588.0 1300.0C1586.7 1319.8 1584.9 1352.4 1584.3 1362.9L1584.3 1362.9L1574.4 1362.9"/><path d="M1563.2 1130.7C1562.9 1133.8 1561.2 1143.1 1561.4 1149.1C1561.6 1155.0 1562.5 1161.9 1564.5 1166.4C1566.5 1170.9 1569.6 1172.2 1573.1 1176.3C1576.6 1180.4 1582.3 1185.8 1585.4 1191.1C1588.5 1196.4 1590.4 1201.5 1591.6 1208.3C1592.8 1215.1 1592.0 1224.8 1592.8 1231.7C1593.6 1238.6 1596.6 1235.7 1596.5 1249.8C1596.4 1263.9 1593.4 1297.6 1592.1 1316.4C1590.8 1335.2 1589.3 1355.2 1588.8 1362.9"/><path d="M1563.2 1130.7C1564.5 1133.6 1568.3 1142.5 1571.0 1148.0C1573.7 1153.5 1574.8 1156.1 1579.3 1163.9C1583.8 1171.7 1591.1 1185.5 1597.7 1194.7C1604.3 1204.0 1614.7 1211.9 1618.7 1219.4C1622.8 1227.0 1621.5 1229.4 1622.0 1240.0C1622.5 1250.6 1624.8 1262.6 1622.0 1283.1C1619.2 1303.6 1608.2 1349.6 1605.4 1362.9"/><path d="M1588.8 1362.9L1605.4 1362.9"/><path d="M1592.1 1181.1L1620.9 1202.1L1620.9 1219.9Z"/><path d="M1605.1 1171.3L1640.0 1196.0L1658.6 1213.2L1658.6 1221.0L1640.0 1205.8L1618.7 1188.6Z"/><path d="M1627.6 1236.5C1627.0 1242.4 1626.1 1258.1 1624.3 1272.0C1622.5 1285.9 1619.2 1304.8 1617.0 1320.0C1614.8 1335.2 1612.0 1355.8 1611.0 1362.9L1611.0 1362.9L1618.7 1362.9L1618.7 1362.9C1619.6 1355.8 1622.3 1337.2 1624.0 1320.0C1625.7 1302.8 1628.2 1273.7 1629.0 1260.0C1629.8 1246.3 1628.6 1241.7 1628.5 1238.0"/><path d="M1627.6 1207.7L1659.8 1229.8L1659.8 1229.8C1659.4 1236.8 1659.5 1257.0 1657.5 1272.0C1655.5 1287.0 1651.9 1304.8 1648.0 1320.0C1644.1 1335.2 1636.5 1355.8 1634.2 1362.9L1634.2 1362.9L1625.4 1362.9L1625.4 1362.9C1626.3 1355.8 1629.5 1335.2 1631.0 1320.0C1632.5 1304.8 1633.7 1286.7 1634.2 1272.0C1634.7 1257.3 1634.2 1238.8 1634.2 1232.1L1634.2 1232.1L1627.6 1225.4L1627.6 1207.7"/><path d="M1666.4 1217.6L1683.0 1224.3L1683.0 1224.3C1683.4 1228.5 1685.7 1238.1 1685.3 1249.8C1684.9 1261.5 1683.6 1279.4 1680.8 1294.2C1678.0 1309.0 1673.5 1327.2 1668.6 1338.5C1663.7 1349.8 1654.3 1358.1 1651.5 1362.0"/><path d="M1666.4 1217.6C1667.1 1224.8 1671.3 1244.4 1670.8 1260.9C1670.2 1277.4 1666.4 1299.8 1663.1 1316.4C1659.8 1333.0 1652.9 1353.3 1650.9 1360.7"/><path d="M1430.2 1375.4L1447.5 1372.8L1448.3 1381.5L1431.9 1378.0Z"/><path d="M1449.2 1372.0L1470.7 1371.1L1472.5 1381.5L1450.9 1379.7Z"/><path d="M1475.9 1371.1L1504.4 1368.5L1507.8 1382.3L1478.5 1381.5Z"/><path d="M1509.7 1368.5L1545.7 1367.9L1545.9 1383.2L1512.9 1382.3Z"/><path d="M1549.2 1368.3L1582.8 1368.5L1579.4 1382.5L1549.2 1383.2Z"/><path d="M1586.9 1368.7L1616.2 1370.4L1611.9 1380.8L1586.9 1381.6Z"/><path d="M1620.5 1371.3L1640.4 1372.1L1637.8 1377.3L1620.5 1379.9Z"/><path d="M1508.0 1110.0C1505.7 1114.8 1498.9 1129.9 1494.0 1138.5C1489.1 1147.1 1484.7 1153.8 1478.5 1161.8C1472.3 1169.8 1460.6 1182.6 1457.0 1186.8" stroke-width="4.5"/><path d="M1514.5 1149.7L1506.7 1169.5" stroke-width="4.5"/><path d="M1400.0 1217.7L1392.2 1222.1L1392.2 1222.1C1392.0 1225.1 1391.1 1234.1 1390.8 1240.0C1390.5 1245.9 1390.5 1254.7 1390.5 1257.6" stroke-width="4.5"/><path d="M1399.4 1228.7C1399.2 1234.1 1397.8 1248.1 1398.3 1260.9C1398.8 1273.7 1399.5 1291.4 1402.2 1305.3C1404.9 1319.2 1410.0 1333.3 1414.4 1344.1C1418.8 1354.9 1426.4 1365.7 1428.8 1370.0" stroke-width="4.5"/><path d="M1418.8 1240.9C1418.8 1246.1 1417.3 1259.4 1418.8 1272.0C1420.3 1284.6 1424.0 1300.7 1427.7 1316.4C1431.4 1332.1 1438.8 1358.0 1441.0 1366.3" stroke-width="4.5"/><path d="M1563.2 1107.3C1564.3 1109.9 1566.0 1114.6 1570.0 1122.9C1574.0 1131.2 1582.0 1148.1 1587.3 1157.4C1592.6 1166.8 1599.5 1175.4 1601.9 1179.0" stroke-width="4.5"/><path d="M1605.4 1171.1L1618.0 1181.0" stroke-width="4.5"/><path d="M1627.6 1236.5L1624.3 1272.0" stroke-width="4.5"/><path d="M1656.4 1323.0L1642.0 1360.7" stroke-width="4.5"/></g></defs>
<use href="#lamp3"/>
<path d="M1534.3 995.2L1529.5 998.2L1528.7 1002.1L1528.7 1013.3M1541.6 995.2L1545.9 998.6L1546.3 1002.9L1546.8 1014.2" fill="none" stroke="#000" stroke-width="2.7" stroke-linejoin="round"/>
<use href="#lamp3" transform="translate(-94.75 1250.7)"/>
<path d="M1025.8 1023.5L1025.8 1012C1025.8 1008 1029 1007 1033.4 1007C1038 1007 1041.3 1008 1041.3 1012L1041.3 1023.5" transform="translate(44.5 1019.5)" fill="none" stroke="#000" stroke-width="2.7"/>
<path d="M1528.7 1013.3L1528.7 1003C1528.7 998 1532 996.6 1537.5 996.6C1543 996.6 1546.8 998 1546.8 1003L1546.8 1014.2" transform="translate(-94.75 1250.7)" fill="none" stroke="#000" stroke-width="2.7"/>
<path d="M718.5 1709C740 1889 1040 1889 1061 1703M1095 1703C1116 1889 1416 1889 1437.5 1709" fill="none" stroke="#000" stroke-width="2.6"/>
<path d="M717 1705L716.6 2176L712 2184M1078.4 1712L1078.4 2027M1439 1705L1443.4 2247" fill="none" stroke="#000" stroke-width="2.6"/>
<circle cx="716.6" cy="1697.7" r="11.3"/><circle cx="1077.9" cy="1698" r="17.3"/><circle cx="1439" cy="1697.7" r="11.3"/>
</svg></body></html>
